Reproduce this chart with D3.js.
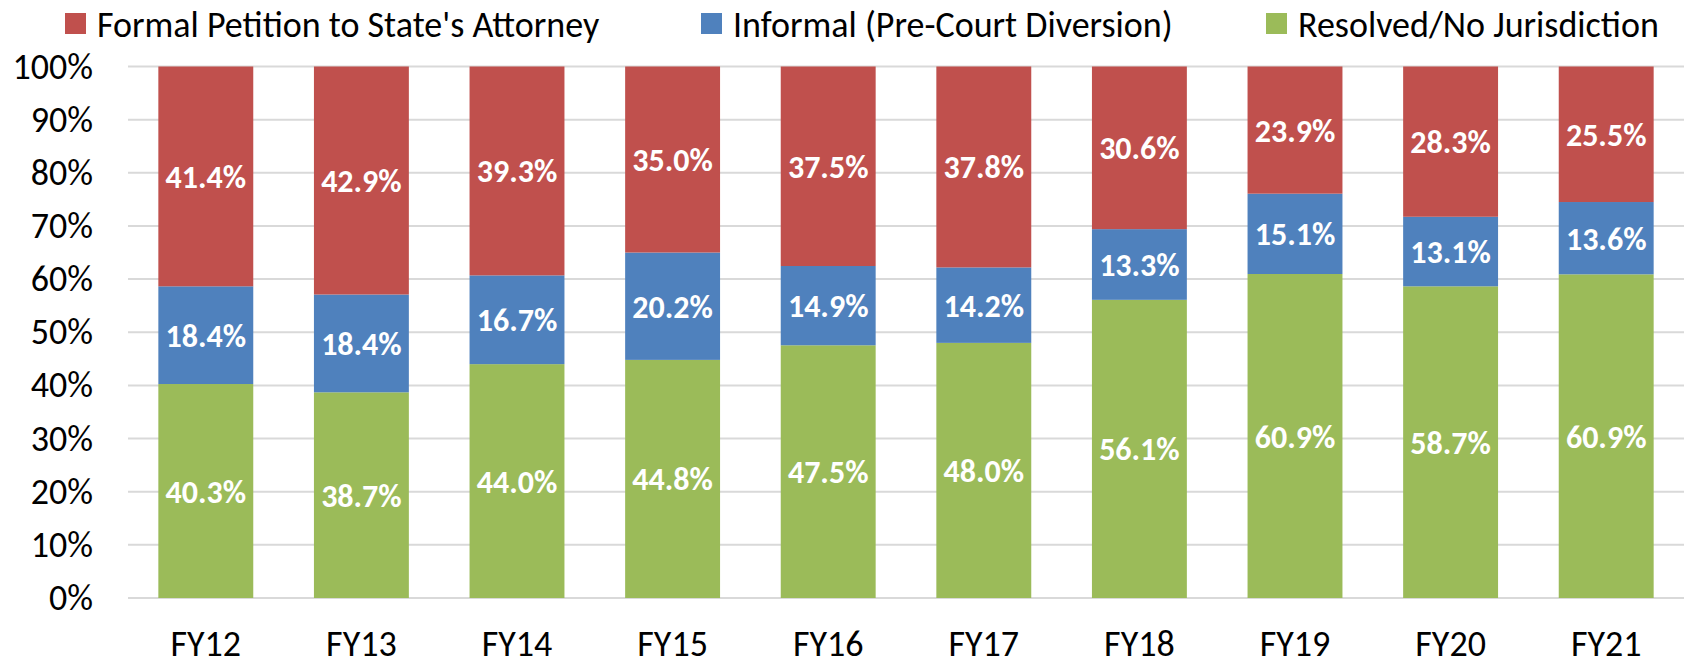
<!DOCTYPE html>
<html lang="en">
<head>
    <meta charset="UTF-8">
    <title>Case Outcomes FY12-FY21</title>
    <script src="https://d3js.org/d3.v7.min.js"></script>
    <style>
        body { margin: 0; background: #fff; }
        svg text { font-family: Carlito, Calibri, Lato, sans-serif; }
    </style>
</head>
<body>
    <div id="chart"></div>

    <script>
        // data (percent of cases per fiscal year)
        var years = ["FY12", "FY13", "FY14", "FY15", "FY16", "FY17", "FY18", "FY19", "FY20", "FY21"];
        var resolved = [40.3, 38.7, 44.0, 44.8, 47.5, 48.0, 56.1, 60.9, 58.7, 60.9];
        var informal = [18.4, 18.4, 16.7, 20.2, 14.9, 14.2, 13.3, 15.1, 13.1, 13.6];
        var formal = [41.4, 42.9, 39.3, 35.0, 37.5, 37.8, 30.6, 23.9, 28.3, 25.5];
        var yTicks = [0, 0.1, 0.2, 0.3, 0.4, 0.5, 0.6, 0.7, 0.8, 0.9, 1];

        var seriesNames = ["Formal Petition to State's Attorney", "Informal (Pre-Court Diversion)", "Resolved/No Jurisdiction"];
        var keys = ["resolved", "informal", "formal"];  // bottom to top
        var colors = { formal: "#c0504d", informal: "#4f81bd", resolved: "#9bbb59" };

        var rows = years.map(function(y, i) {
            return { year: y, resolved: resolved[i], informal: informal[i], formal: formal[i] };
        });

        var width = 1685, height = 661;
        var plotLeft = 128, plotRight = 1684, plotTop = 66.5, plotBottom = 598;
        var fontSize = 36;

        var svg = d3.select("#chart").append("svg")
            .attr("width", width)
            .attr("height", height);

        var x = d3.scaleBand()
            .domain(years)
            .range([plotLeft, plotRight])
            .paddingInner(0.39)
            .paddingOuter(0.195);

        var y = d3.scaleLinear()
            .domain([0, 1])
            .range([plotBottom, plotTop]);

        // gridlines
        svg.append("g").selectAll("line")
            .data(yTicks)
            .enter().append("line")
            .attr("x1", plotLeft)
            .attr("x2", plotRight)
            .attr("y1", function(d) { return y(d); })
            .attr("y2", function(d) { return y(d); })
            .attr("stroke", "#d9d9d9")
            .attr("stroke-width", 2);

        // y axis labels
        var yAxis = d3.axisLeft(y)
            .tickValues(yTicks)
            .tickFormat(d3.format(".0%"))
            .tickSize(0)
            .tickPadding(0);
        var gy = svg.append("g")
            .attr("transform", "translate(93,0)")
            .call(yAxis);
        gy.select(".domain").remove();
        gy.selectAll("text")
            .attr("font-size", fontSize)
            .attr("fill", "#000")
            .style("font-family", "Carlito, Calibri, Lato, sans-serif");

        // x axis labels
        var xAxis = d3.axisBottom(x).tickSize(0).tickPadding(0);
        var gx = svg.append("g")
            .attr("transform", "translate(0," + 656 + ")")
            .call(xAxis);
        gx.select(".domain").remove();
        gx.selectAll("text")
            .attr("dy", 0)
            .attr("font-size", fontSize)
            .attr("fill", "#000")
            .style("font-family", "Carlito, Calibri, Lato, sans-serif");

        // stacked 100% bars
        var stack = d3.stack().keys(keys).offset(d3.stackOffsetExpand);
        var layers = stack(rows);

        var layer = svg.append("g").selectAll("g")
            .data(layers)
            .enter().append("g")
            .attr("fill", function(d) { return colors[d.key]; });

        layer.selectAll("rect")
            .data(function(d) { return d; })
            .enter().append("rect")
            .attr("x", function(d) { return x(d.data.year); })
            .attr("width", x.bandwidth())
            .attr("y", function(d) { return y(d[1]); })
            .attr("height", function(d) { return y(d[0]) - y(d[1]); });

        // value labels
        layers.forEach(function(l) {
            svg.append("g").selectAll("text")
                .data(l)
                .enter().append("text")
                .attr("x", function(d) { return x(d.data.year) + x.bandwidth() / 2; })
                .attr("y", function(d) { return (y(d[0]) + y(d[1])) / 2; })
                .attr("dy", "0.36em")
                .attr("text-anchor", "middle")
                .attr("fill", "#fff")
                .attr("font-weight", "bold")
                .attr("font-size", 32)
                .text(function(d) { return d.data[l.key].toFixed(1) + "%"; });
        });

        // legend
        var legendX = [65, 701, 1266];
        var legendOrder = ["formal", "informal", "resolved"];
        var legend = svg.append("g").selectAll("g")
            .data(legendOrder)
            .enter().append("g")
            .attr("transform", function(d, i) { return "translate(" + legendX[i] + ",0)"; });

        legend.append("rect")
            .attr("x", 0)
            .attr("y", 13)
            .attr("width", 21)
            .attr("height", 21)
            .attr("fill", function(d) { return colors[d]; });

        legend.append("text")
            .attr("x", 32)
            .attr("y", 24)
            .attr("dy", "0.36em")
            .attr("font-size", fontSize)
            .attr("fill", "#000")
            .text(function(d, i) { return seriesNames[i]; });
    </script>
</body>
</html>
